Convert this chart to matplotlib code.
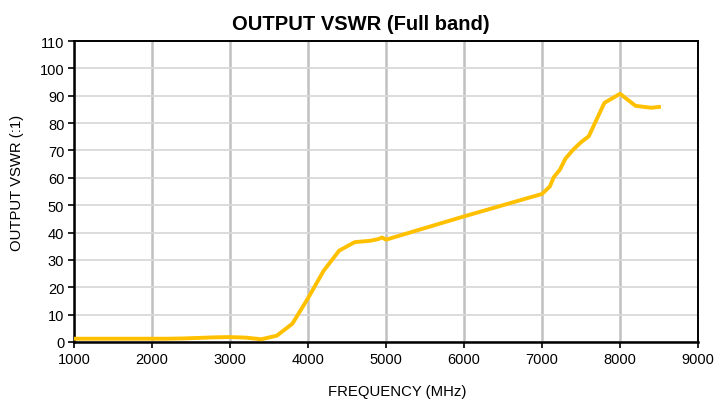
import matplotlib
matplotlib.use("Agg")
import matplotlib.pyplot as plt

plt.rcParams['font.family'] = ['Liberation Sans', 'DejaVu Sans']

freq_mhz = [1000, 1200, 1400, 1600, 1800, 2000, 2200, 2400, 2600, 2800, 3000, 3200,
            3400, 3600, 3800, 4000, 4200, 4400, 4600, 4800, 4900, 4950, 5000, 6000,
            7000, 7100, 7150, 7230, 7300, 7400, 7500, 7600, 7800, 8000, 8200, 8400, 8500]
vswr = [1.2, 1.2, 1.2, 1.2, 1.2, 1.2, 1.2, 1.3, 1.5, 1.7, 1.8, 1.6,
        1.0, 2.3, 6.7, 16.0, 26.0, 33.4, 36.5, 37.0, 37.6, 38.2, 37.4, 45.9,
        54.1, 56.8, 60.2, 63.0, 67.0, 70.3, 73.0, 75.2, 87.4, 90.7, 86.3, 85.6, 85.9]

x_ticks = [1000, 2000, 3000, 4000, 5000, 6000, 7000, 8000, 9000]
y_ticks = [0, 10, 20, 30, 40, 50, 60, 70, 80, 90, 100, 110]

title = "OUTPUT VSWR (Full band)"
x_label = "FREQUENCY (MHz)"
y_label = "OUTPUT VSWR (:1)"

fig = plt.figure(figsize=(7.15, 4.02), dpi=100)
ax = fig.add_axes([74/715, 59/402, 624/715, 301/402])

ax.plot(freq_mhz, vswr, color='#FFC000', lw=2.8, solid_joinstyle='round', zorder=3)

ax.set_xlim(1000, 9000)
ax.set_ylim(0, 110)
ax.set_xticks(x_ticks)
ax.set_yticks(y_ticks)

ax.grid(axis='x', color='#C0C0C0', lw=1.8, zorder=0)
ax.grid(axis='y', color='#D9D9D9', lw=1.3, zorder=0)
ax.set_axisbelow(True)

for side in ['left', 'bottom']:
    ax.spines[side].set_linewidth(1.8)
for side in ['top', 'right']:
    ax.spines[side].set_linewidth(1.4)
for s in ax.spines.values():
    s.set_color('black')

ax.tick_params(axis='both', direction='out', length=4, width=1.2, labelsize=10.5,
               colors='black', pad=3)

ax.set_title(title, fontsize=14.5, fontweight='bold', pad=9, x=0.46)
ax.set_xlabel(x_label, fontsize=10.7)
ax.set_ylabel(y_label, fontsize=10.7, labelpad=11)
ax.xaxis.set_label_coords(0.518, -0.138)
ax.yaxis.label.set_y(0.533)

fig.savefig("out.png", dpi=100)
